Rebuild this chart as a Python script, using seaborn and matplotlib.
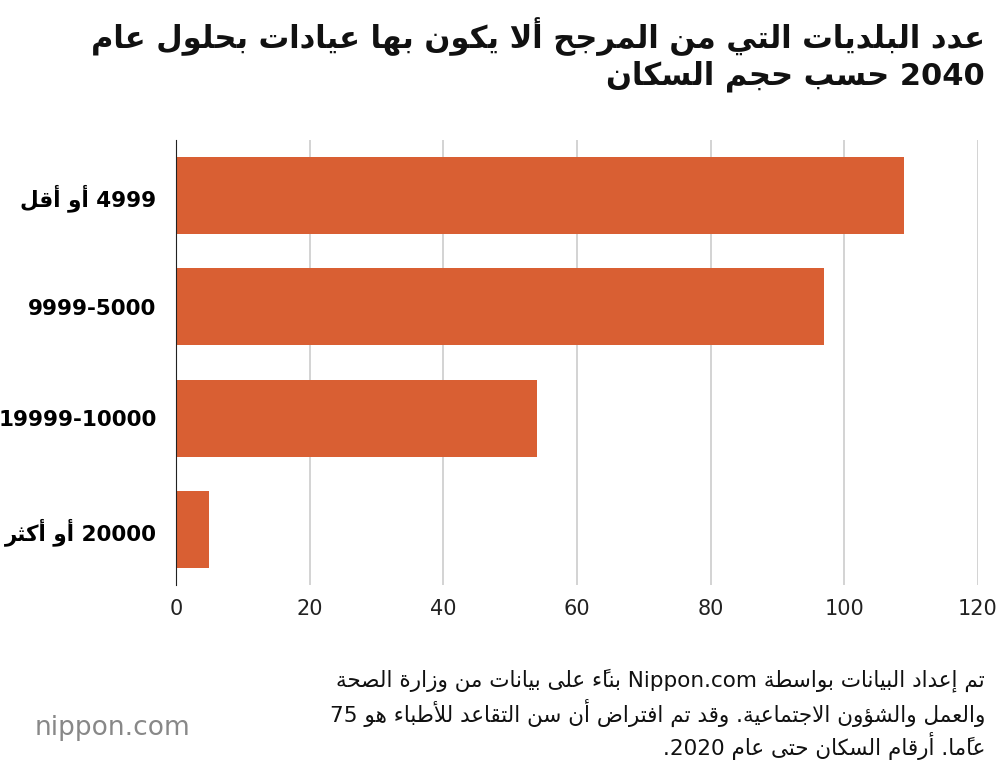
import matplotlib
matplotlib.use("Agg")
import matplotlib.pyplot as plt
import seaborn as sns
import pandas as pd

# ===============================
# Data
# ===============================
categories = ["4999 أو أقل", "5000-9999", "10000-19999", "20000 أو أكثر"]
values = [109, 97, 54, 5]
x_ticks = [0, 20, 40, 60, 80, 100, 120]

title_lines = ["عدد البلديات التي من المرجح ألا يكون بها عيادات بحلول عام",
               "2040 حسب حجم السكان"]
note_lines = ["تم إعداد البيانات بواسطة Nippon.com بناءً على بيانات من وزارة الصحة",
              "والعمل والشؤون الاجتماعية. وقد تم افتراض أن سن التقاعد للأطباء هو 75",
              "عامًا. أرقام السكان حتى عام 2020."]

# ===============================
# Minimal Arabic shaping + visual ordering (matplotlib has no CTL)
# ===============================
FORMS = {  # isolated, final, initial, medial
    'ء': (0xFE80,), 'آ': (0xFE81, 0xFE82), 'أ': (0xFE83, 0xFE84), 'ؤ': (0xFE85, 0xFE86),
    'إ': (0xFE87, 0xFE88), 'ئ': (0xFE89, 0xFE8A, 0xFE8B, 0xFE8C), 'ا': (0xFE8D, 0xFE8E),
    'ب': (0xFE8F, 0xFE90, 0xFE91, 0xFE92), 'ة': (0xFE93, 0xFE94),
    'ت': (0xFE95, 0xFE96, 0xFE97, 0xFE98), 'ث': (0xFE99, 0xFE9A, 0xFE9B, 0xFE9C),
    'ج': (0xFE9D, 0xFE9E, 0xFE9F, 0xFEA0), 'ح': (0xFEA1, 0xFEA2, 0xFEA3, 0xFEA4),
    'خ': (0xFEA5, 0xFEA6, 0xFEA7, 0xFEA8), 'د': (0xFEA9, 0xFEAA), 'ذ': (0xFEAB, 0xFEAC),
    'ر': (0xFEAD, 0xFEAE), 'ز': (0xFEAF, 0xFEB0),
    'س': (0xFEB1, 0xFEB2, 0xFEB3, 0xFEB4), 'ش': (0xFEB5, 0xFEB6, 0xFEB7, 0xFEB8),
    'ص': (0xFEB9, 0xFEBA, 0xFEBB, 0xFEBC), 'ض': (0xFEBD, 0xFEBE, 0xFEBF, 0xFEC0),
    'ط': (0xFEC1, 0xFEC2, 0xFEC3, 0xFEC4), 'ظ': (0xFEC5, 0xFEC6, 0xFEC7, 0xFEC8),
    'ع': (0xFEC9, 0xFECA, 0xFECB, 0xFECC), 'غ': (0xFECD, 0xFECE, 0xFECF, 0xFED0),
    'ف': (0xFED1, 0xFED2, 0xFED3, 0xFED4), 'ق': (0xFED5, 0xFED6, 0xFED7, 0xFED8),
    'ك': (0xFED9, 0xFEDA, 0xFEDB, 0xFEDC), 'ل': (0xFEDD, 0xFEDE, 0xFEDF, 0xFEE0),
    'م': (0xFEE1, 0xFEE2, 0xFEE3, 0xFEE4), 'ن': (0xFEE5, 0xFEE6, 0xFEE7, 0xFEE8),
    'ه': (0xFEE9, 0xFEEA, 0xFEEB, 0xFEEC), 'و': (0xFEED, 0xFEEE), 'ى': (0xFEEF, 0xFEF0),
    'ي': (0xFEF1, 0xFEF2, 0xFEF3, 0xFEF4),
}
LAM_ALEF = {'آ': (0xFEF5, 0xFEF6), 'أ': (0xFEF7, 0xFEF8), 'إ': (0xFEF9, 0xFEFA), 'ا': (0xFEFB, 0xFEFC)}
MARKS = set(chr(c) for c in range(0x064B, 0x0653))


def shape(word):
    chars = list(word)
    out = []
    base = [i for i, c in enumerate(chars) if c not in MARKS]
    skip = set()
    for k, i in enumerate(base):
        if i in skip:
            continue
        c = chars[i]
        if c not in FORMS:
            out.append(c)
            continue
        prev = chars[base[k - 1]] if k > 0 else None
        joins_prev = prev in FORMS and len(FORMS[prev]) == 4
        nxt_k = k + 1
        if c == 'ل' and nxt_k < len(base) and chars[base[nxt_k]] in LAM_ALEF:
            out.append(chr(LAM_ALEF[chars[base[nxt_k]]][1 if joins_prev else 0]))
            skip.add(base[nxt_k])
            continue
        nxt = chars[base[nxt_k]] if nxt_k < len(base) else None
        f = FORMS[c]
        joins_next = len(f) == 4 and nxt in FORMS
        if len(f) == 1:
            g = f[0]
        elif joins_prev and joins_next:
            g = f[3]
        elif joins_next:
            g = f[2]
        elif joins_prev:
            g = f[1]
        else:
            g = f[0]
        out.append(chr(g))
        j = i + 1
        while j < len(chars) and chars[j] in MARKS:
            out.append(chars[j]); j += 1
    return "".join(out)


def is_ltr(c):
    return c.isascii() and c.isalnum()


def visual(text):
    runs, cur, cur_ltr = [], "", None
    for i, c in enumerate(text):
        ltr = is_ltr(c) or (c == '.' and 0 < i < len(text) - 1
                            and is_ltr(text[i - 1]) and is_ltr(text[i + 1]))
        if cur and ltr != cur_ltr:
            runs.append((cur, cur_ltr)); cur = ""
        cur += c; cur_ltr = ltr
    if cur:
        runs.append((cur, cur_ltr))
    parts = []
    for s, ltr in runs:
        if ltr:
            parts.append(s)
        else:
            shaped = " ".join(shape(w) for w in s.split(" "))
            clusters = []
            for ch in shaped:
                if ch in MARKS and clusters:
                    clusters[-1] += ch
                else:
                    clusters.append(ch)
            parts.append("".join(reversed(clusters)))
    return "".join(reversed(parts))


# ===============================
# Plot
# ===============================
df = pd.DataFrame({"cat": [visual(c) for c in categories], "value": values})

plt.rcParams["font.family"] = "DejaVu Sans"
fig = plt.figure(figsize=(10, 7.64), dpi=100)
ax = fig.add_axes([0.176, 0.234, 0.802, 0.583])

sns.barplot(data=df, x="value", y="cat", color="#D95F33", saturation=1,
            width=0.69, ax=ax, zorder=3)

ax.set_xlim(0, 120)
ax.set_xticks(x_ticks)
ax.set_xlabel("")
ax.set_ylabel("")
ax.grid(axis="x", color="#cccccc", linewidth=1.2, zorder=0)
for s in ["top", "right", "bottom"]:
    ax.spines[s].set_visible(False)
ax.spines["left"].set_color("#222222")
ax.spines["left"].set_zorder(4)
ax.tick_params(axis="both", length=0, pad=10)
ax.tick_params(axis="x", labelsize=15, colors="#222222")
ax.tick_params(axis="y", labelsize=15.5, pad=14)
for t in ax.get_yticklabels():
    t.set_fontweight("bold")

for i, line in enumerate(title_lines):
    fig.text(0.985, 0.952 - i * 0.052, visual(line), ha="right", va="center",
             fontsize=22, fontweight="bold", color="#111111")

for i, line in enumerate(note_lines):
    fig.text(0.985, 0.11 - i * 0.043, visual(line), ha="right", va="center",
             fontsize=15.5, color="#111111")

fig.text(0.035, 0.03, "nippon.com", ha="left", va="bottom", fontsize=19, color="#888888")

fig.savefig("out.png", dpi=100)
plt.close(fig)
